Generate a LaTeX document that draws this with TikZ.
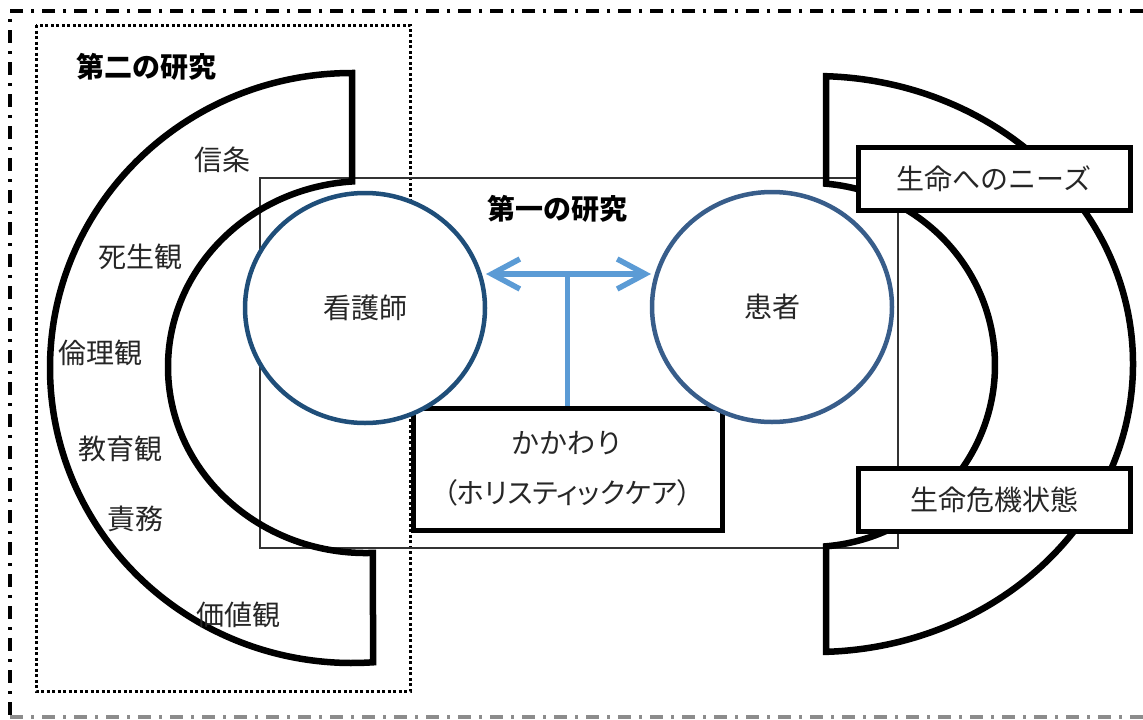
\documentclass[tikz,border=0pt]{standalone}
\usepackage{fontspec}
\newfontfamily\jp{Noto Sans CJK JP}
\newfontfamily\jpp[RawFeature=+palt]{Noto Sans CJK JP}
\usetikzlibrary{shapes.geometric,arrows.meta}
\definecolor{navyA}{RGB}{31,78,121}
\definecolor{navyB}{RGB}{56,93,138}
\definecolor{arrowblue}{RGB}{91,155,213}
\begin{document}
\begin{tikzpicture}[x=1pt,y=-1pt,
  lbl/.style={font=\jp\fontsize{28}{32}\selectfont, inner sep=0pt, text=black!85},
  ttl/.style={font=\jp\bfseries\fontsize{28}{32}\selectfont, inner sep=0pt},
  blockarc/.style={line width=6.5pt, draw=black, line join=miter},
  circ/.style={ellipse, draw, line width=4.5pt, fill=white, minimum width=240pt, minimum height=230pt, inner sep=0pt, font=\jp\fontsize{28}{32}\selectfont, text=black!85},
  tagbox/.style={rectangle, draw=black, line width=5pt, fill=white, minimum width=272pt, minimum height=63pt, inner sep=0pt, font=\jp\fontsize{28}{32}\selectfont, text=black!85},
  carebox/.style={rectangle, draw=black, line width=5pt, fill=white, minimum width=309pt, minimum height=122pt, inner sep=0pt, align=center, font=\jp\fontsize{28}{50}\selectfont, text=black!85},
  link/.style={draw=arrowblue, line width=5.5pt},
  dashdot/.style={line width=3.5pt, dash pattern=on 13pt off 8pt on 3pt off 8pt},
]
\useasboundingbox (0,0) rectangle (1143,720);

% outer frame
\draw[dashdot] (1143,11) -- (10,11) -- (10,717);
\draw[dashdot, black!45] (10,717) -- (1143,717);

% dotted frame of second study
\draw[line width=3pt, dash pattern=on 3pt off 2.5pt] (36,25) rectangle (410,691);

% thin rectangle of first study
\draw[line width=1.5pt, black!80] (260,178) rectangle (898,548);

% block arcs
\draw[blockarc] (352,73) arc[start angle=90,end angle=274,x radius=302pt,y radius=295pt]
  -- (372.9,552.9) arc[start angle=272,end angle=94,x radius=198pt,y radius=186pt] -- cycle;
\draw[blockarc] (826.1,76.2) arc[start angle=88,end angle=-88,x radius=318pt,y radius=288pt]
  -- (826.1,546.3) arc[start angle=-85,end angle=85,x radius=185pt,y radius=182pt] -- cycle;

% labels
\node[ttl] (second) at (146,67) {第二の研究};
\node[ttl] (first) at (557,209) {第一の研究};
\node[lbl] (belief) at (222,160) {信条};
\node[lbl] (death) at (140,257) {死生観};
\node[lbl] (ethic) at (100,353) {倫理観};
\node[lbl] (edu) at (120,449) {教育観};
\node[lbl] (duty) at (135,519) {責務};
\node[lbl] (value) at (238,615) {価値観};

% care box and connectors
\node[carebox] (care) at (567.5,469) {かかわり\\{\jpp （ホリスティックケア）}};
\coordinate (aL) at (486,274);
\coordinate (aR) at (651,274);
\draw[link] (care.north) -- (care.north |- aL);

\node[circ, draw=navyA] (nurse) at (365,308) {看護師};
\node[circ, draw=navyB] (patient) at (772,307) {患者};

\draw[link, line cap=round, {Straight Barb[length=28pt,width=30pt]}-{Straight Barb[length=28pt,width=30pt]}] (aL) -- (aR);

% right tag boxes
\node[tagbox] (needs) at (994,178.5) {生命へのニーズ};
\node[tagbox] (crisis) at (994,499.5) {生命危機状態};
\end{tikzpicture}
\end{document}
